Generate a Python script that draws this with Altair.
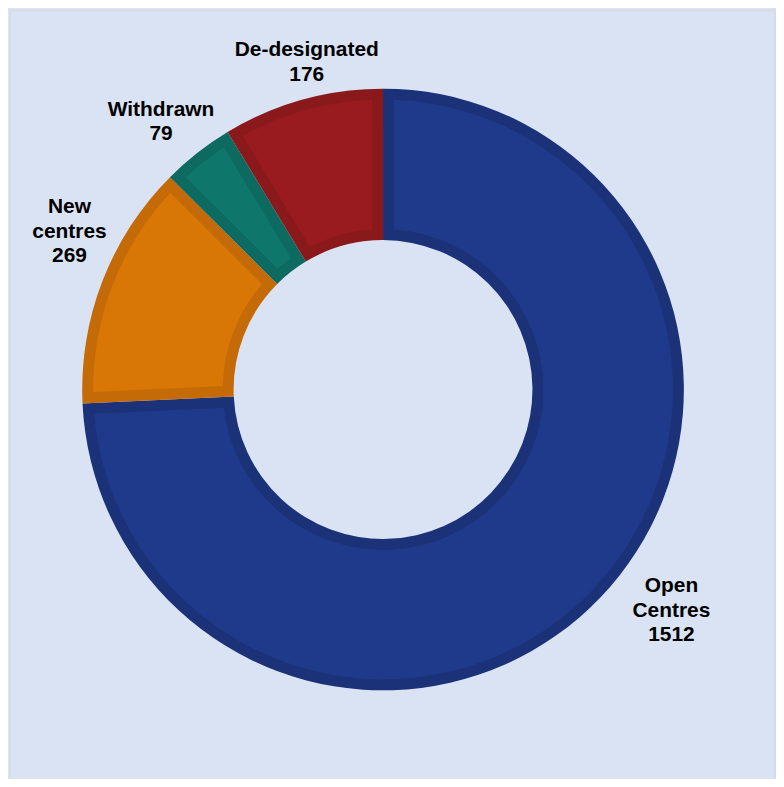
import altair as alt
import pandas as pd

categories = ["Open Centres", "New centres", "Withdrawn", "De-designated"]
values = [1512, 269, 79, 176]
order = [0, 1, 2, 3]

df = pd.DataFrame({"category": categories, "value": values, "idx": order})
df["label"] = [c.replace(" ", "\n", 1) + "\n" + str(v) for c, v in zip(categories, values)]
df["lines"] = df["label"].str.count("\n")

fill_colors = ["#1f3a8a", "#d97706", "#0e766b", "#9a1b1f"]
edge_colors = ["#1b3278", "#c46b07", "#0c6a60", "#8a191c"]

W, H = 769, 770
CX, CY = 374.5, 380.5
BG = "#dae3f3"
LH = 24.7

base = alt.Chart(df)

outer = base.mark_arc(radius=302, radius2=150).encode(
    theta=alt.Theta("value:Q", stack=True),
    order=alt.Order("idx:Q"),
    color=alt.Color("category:N", scale=alt.Scale(domain=categories, range=edge_colors), legend=None),
    x=alt.value(CX), y=alt.value(CY),
)

inner = base.mark_arc(radius=291, radius2=161, padAngle=0.066).encode(
    theta=alt.Theta("value:Q", stack=True),
    order=alt.Order("idx:Q"),
    fill=alt.Fill("category:N", scale=alt.Scale(domain=categories, range=fill_colors), legend=None),
    x=alt.value(CX), y=alt.value(CY),
)

tbase = base.transform_joinaggregate(total="sum(value)").transform_window(
    cum="sum(value)", sort=[alt.SortField("idx")], frame=[None, 0]
).transform_calculate(mid="(datum.cum - datum.value / 2) / datum.total * 2 * PI")

label_offsets = {
    "Open Centres": (40, -16),
    "New centres": (7, -34),
    "Withdrawn": (-10, 3),
    "De-designated": (16, 4),
}

texts = []
for c, n in zip(categories, df["lines"]):
    dx, dy = label_offsets[c]
    dy = dy - n * LH / 2
    texts.append(
        tbase.transform_filter(alt.datum.category == c).mark_text(
            radius=345, dx=dx, dy=dy, fontSize=21, fontWeight="bold",
            font="Liberation Sans", lineBreak="\n", lineHeight=LH,
            align="center", baseline="middle", color="#000000",
        ).encode(
            theta=alt.Theta("mid:Q", scale=None),
            text="label:N",
            x=alt.value(CX), y=alt.value(CY),
        )
    )

bd = alt.Chart(pd.DataFrame({"a": [0]}))
border_color = "#d6d9de"
left = bd.mark_rule(color=border_color, strokeWidth=1.5).encode(
    x=alt.value(0), y=alt.value(0), y2=alt.value(H))
top = bd.mark_rule(color=border_color, strokeWidth=1.5).encode(
    x=alt.value(0), x2=alt.value(W - 1), y=alt.value(0))
right = bd.mark_rule(color=border_color, strokeWidth=1.5).encode(
    x=alt.value(W - 1), y=alt.value(0), y2=alt.value(H))

chart = alt.layer(outer, inner, *texts, left, top, right).properties(
    width=W, height=H,
    autosize=alt.AutoSizeParams(type="none"),
    padding={"left": 2, "top": 1, "right": 0, "bottom": 0},
    background=BG,
).resolve_scale(color="independent", fill="independent").configure_view(stroke=None)

chart.save("out.html", embed_options={"renderer": "svg", "actions": False})
